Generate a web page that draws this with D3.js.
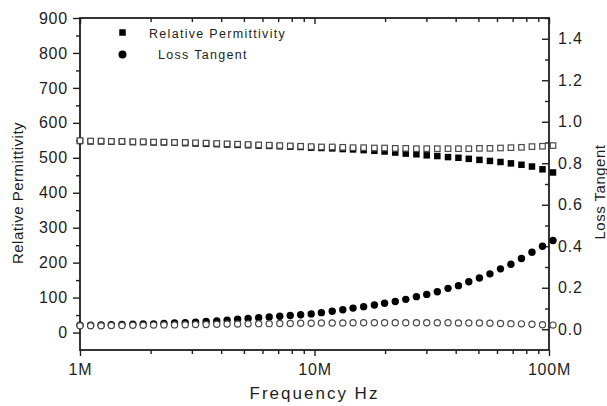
<!DOCTYPE html>
<html>
<head>
<meta charset="utf-8">
<script src="https://cdn.jsdelivr.net/npm/d3@7"></script>
<style>
  body { margin: 0; background: #fff; }
  text { font-family: Arial, "Liberation Sans", sans-serif; fill: #1e1e1e; }
</style>
</head>
<body>
<div id="chart"></div>
<script>
// frequency points, MHz
const freqs = [1, 1.11, 1.23, 1.36, 1.51, 1.68, 1.86, 2.06, 2.28, 2.53, 2.81, 3.11, 3.45, 3.83, 4.24, 4.70,
  5.21, 5.78, 6.41, 7.11, 7.88, 8.73, 9.68, 10.7, 11.9, 13.2, 14.6, 16.2, 18.0, 19.9, 22.1, 24.5,
  27.2, 30.1, 33.4, 37.1, 41.1, 45.5, 50.5, 56.0, 62.1, 68.8, 76.3, 84.6, 93.8, 104];

// relative permittivity, filled squares
const permFilled = [548, 547, 547, 546, 546, 545, 545, 544, 544, 543, 542, 541, 540, 539, 538, 537,
  536, 535, 534, 533, 532, 531, 529, 528, 527, 525, 524, 522, 520, 518, 515, 512,
  510, 507, 505, 502, 500, 497, 494, 491, 488, 484, 480, 475, 467, 458];

// relative permittivity, open squares
const permOpen = [549, 548, 548, 547, 547, 546, 546, 545, 545, 544, 544, 543, 542, 541, 540, 539,
  538, 537, 536, 535, 534, 533, 532, 531, 531, 530, 529, 529, 528, 528, 527, 527,
  526, 526, 526, 526, 526, 526, 527, 527, 528, 529, 530, 532, 533, 535];

// loss tangent, filled circles
const lossFilled = [0.019, 0.020, 0.021, 0.022, 0.023, 0.024, 0.025, 0.026, 0.028, 0.030, 0.032, 0.034,
  0.037, 0.040, 0.044, 0.048, 0.052, 0.056, 0.059, 0.063, 0.066, 0.070, 0.074, 0.080, 0.087, 0.094,
  0.102, 0.109, 0.117, 0.125, 0.134, 0.144, 0.157, 0.168, 0.181, 0.197, 0.210, 0.229, 0.247, 0.267,
  0.291, 0.313, 0.341, 0.371, 0.400, 0.428];

// loss tangent, open circles
const lossOpen = [0.017, 0.017, 0.017, 0.018, 0.018, 0.019, 0.019, 0.020, 0.021, 0.021, 0.022, 0.023,
  0.023, 0.024, 0.025, 0.025, 0.026, 0.027, 0.027, 0.028, 0.028, 0.029, 0.029, 0.030, 0.030, 0.030,
  0.031, 0.031, 0.031, 0.031, 0.031, 0.031, 0.031, 0.031, 0.031, 0.031, 0.030, 0.030, 0.030, 0.029,
  0.028, 0.027, 0.026, 0.024, 0.022, 0.020];

const freqMajor = [1, 10, 100];
const freqLabels = ['1M', '10M', '100M'];
const permTicks = [0, 100, 200, 300, 400, 500, 600, 700, 800, 900];
const lossTicks = [0, 0.2, 0.4, 0.6, 0.8, 1.0, 1.2, 1.4];
const legendNames = ['Relative Permittivity', 'Loss Tangent'];

const W = 607, H = 406;
let margin = {top: 18, right: 58, bottom: 56, left: 80};

let svg = d3.select("#chart").append("svg")
  .attr("width", W)
  .attr("height", H);

let x = d3.scaleLog()
  .domain([1, 100])
  .range([margin.left, W - margin.right]);

let yL = d3.scaleLinear()
  .domain([-50, 900])
  .range([H - margin.bottom, margin.top]);

let yR = d3.scaleLinear()
  .domain([-0.1, 1.5])
  .range([H - margin.bottom, margin.top]);

const x0 = margin.left, x1 = W - margin.right;
const y0 = H - margin.bottom, y1 = margin.top;

// minor tick values
let freqMinor = x.ticks().filter(function(f){ return freqMajor.indexOf(f) < 0; });
let permMinor = permTicks.map(function(t){ return t + 50; }).filter(function(t){ return t < 900; });
let lossMinor = lossTicks.map(function(t){ return +(t + 0.1).toFixed(1); });

function styleAxis(g) {
  g.select(".domain").remove();
  g.selectAll(".tick line").attr("stroke", "#1e1e1e").attr("stroke-width", 1.4);
  g.selectAll("text").attr("font-size", 16).style("letter-spacing", "0.8px");
}

// bottom
svg.append("g")
  .attr("transform", "translate(0," + y0 + ")")
  .call(d3.axisBottom(x).tickValues(freqMinor).tickSize(4).tickFormat(""))
  .call(styleAxis);
svg.append("g")
  .attr("transform", "translate(0," + y0 + ")")
  .call(d3.axisBottom(x).tickValues(freqMajor).tickSize(6).tickPadding(8)
    .tickFormat(function(d, i){ return freqLabels[i]; }))
  .call(styleAxis);

// top, ticks inside
svg.append("g")
  .attr("transform", "translate(0," + y1 + ")")
  .call(d3.axisBottom(x).tickValues(freqMinor).tickSize(4).tickFormat(""))
  .call(styleAxis);
svg.append("g")
  .attr("transform", "translate(0," + y1 + ")")
  .call(d3.axisBottom(x).tickValues(freqMajor).tickSize(6).tickFormat(""))
  .call(styleAxis);

// left
svg.append("g")
  .attr("transform", "translate(" + x0 + ",0)")
  .call(d3.axisLeft(yL).tickValues(permMinor).tickSize(4).tickFormat(""))
  .call(styleAxis);
svg.append("g")
  .attr("transform", "translate(" + x0 + ",0)")
  .call(d3.axisLeft(yL).tickValues(permTicks).tickSize(7).tickPadding(5).tickFormat(d3.format("d")))
  .call(styleAxis);

// right, ticks inside
svg.append("g")
  .attr("transform", "translate(" + x1 + ",0)")
  .call(d3.axisLeft(yR).tickValues(lossMinor).tickSize(4).tickFormat(""))
  .call(styleAxis);
let rightAxis = svg.append("g")
  .attr("transform", "translate(" + x1 + ",0)")
  .call(d3.axisLeft(yR).tickValues(lossTicks).tickSize(7).tickFormat(d3.format(".1f")))
  .call(styleAxis);
rightAxis.selectAll("text")
  .attr("x", 9)
  .attr("text-anchor", "start");

// frame
svg.append("rect")
  .attr("x", x0)
  .attr("y", y1)
  .attr("width", x1 - x0)
  .attr("height", y0 - y1)
  .attr("fill", "none")
  .attr("stroke", "#1e1e1e")
  .attr("stroke-width", 1.8);

// axis titles
svg.append("text")
  .attr("x", (x0 + x1) / 2)
  .attr("y", 399)
  .attr("text-anchor", "middle")
  .attr("font-size", 17)
  .style("letter-spacing", "2px")
  .text("Frequency Hz");

svg.append("text")
  .attr("transform", "translate(23," + ((y0 + y1) / 2 + 9) + ") rotate(-90)")
  .attr("text-anchor", "middle")
  .attr("font-size", 15)
  .style("letter-spacing", "0.5px")
  .text("Relative Permittivity");

svg.append("text")
  .attr("transform", "translate(605," + ((y0 + y1) / 2 + 8) + ") rotate(-90)")
  .attr("text-anchor", "middle")
  .attr("font-size", 15)
  .style("letter-spacing", "0.5px")
  .text("Loss Tangent");

let data = freqs.map(function(f, i){
  return {f: f, pf: permFilled[i], po: permOpen[i], lf: lossFilled[i], lo: lossOpen[i]};
});

const sq = 6.5;

// filled markers first, open (white) on top
svg.append("g").selectAll("rect")
  .data(data)
  .join("rect")
    .attr("x", function(d){ return x(d.f) - sq / 2; })
    .attr("y", function(d){ return yL(d.pf) - sq / 2; })
    .attr("width", sq)
    .attr("height", sq)
    .attr("fill", "#000");

svg.append("g").selectAll("circle")
  .data(data)
  .join("circle")
    .attr("cx", function(d){ return x(d.f); })
    .attr("cy", function(d){ return yR(d.lf); })
    .attr("r", 3.7)
    .attr("fill", "#000");

svg.append("g").selectAll("rect")
  .data(data)
  .join("rect")
    .attr("x", function(d){ return x(d.f) - (sq - 1) / 2; })
    .attr("y", function(d){ return yL(d.po) - (sq - 1) / 2; })
    .attr("width", sq - 1)
    .attr("height", sq - 1)
    .attr("fill", "#fff")
    .attr("stroke", "#4a4a4a")
    .attr("stroke-width", 1.2);

svg.append("g").selectAll("circle")
  .data(data)
  .join("circle")
    .attr("cx", function(d){ return x(d.f); })
    .attr("cy", function(d){ return yR(d.lo); })
    .attr("r", 3.1)
    .attr("fill", "#fff")
    .attr("stroke", "#4a4a4a")
    .attr("stroke-width", 1.2);

// legend
let legend = svg.append("g");
legend.append("rect")
  .attr("x", 122.5 - sq / 2)
  .attr("y", 32.5 - sq / 2)
  .attr("width", sq)
  .attr("height", sq)
  .attr("fill", "#000");
legend.append("circle")
  .attr("cx", 122.5)
  .attr("cy", 54.5)
  .attr("r", 4)
  .attr("fill", "#000");
legend.selectAll("text")
  .data(legendNames)
  .join("text")
    .attr("x", function(d, i){ return i === 0 ? 149 : 158; })
    .attr("y", function(d, i){ return i === 0 ? 37.5 : 59; })
    .attr("font-size", 12.5)
    .style("letter-spacing", "1.3px")
    .text(function(d){ return d; });
</script>
</body>
</html>
